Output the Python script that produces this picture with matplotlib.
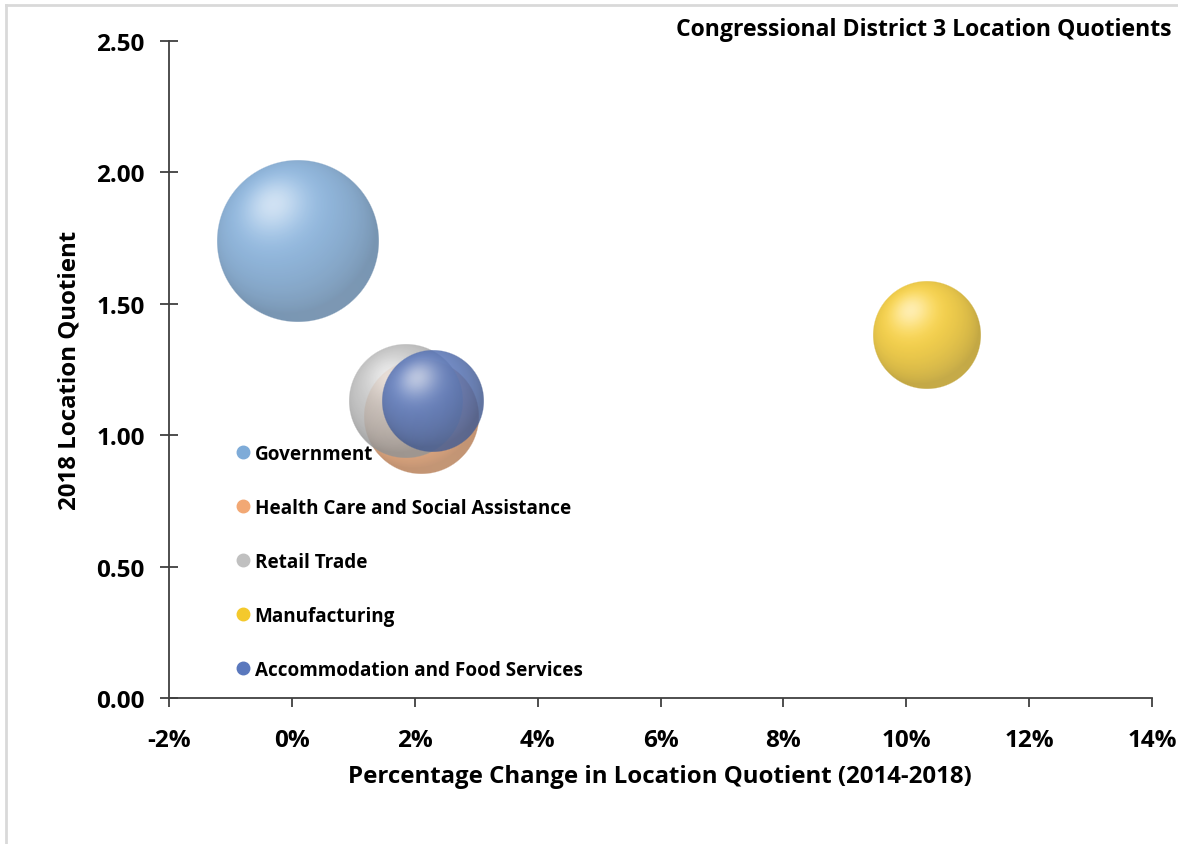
import numpy as np
import matplotlib
matplotlib.use("Agg")
import matplotlib.pyplot as plt
from matplotlib.lines import Line2D
from matplotlib.ticker import FuncFormatter, MultipleLocator

plt.rcParams["font.family"] = ["Open Sans", "DejaVu Sans"]
plt.rcParams["font.weight"] = "bold"

industries = [
    "Government",
    "Health Care and Social Assistance",
    "Retail Trade",
    "Manufacturing",
    "Accommodation and Food Services",
]
pct_change = [0.10, 2.11, 1.85, 10.33, 2.30]   # % change in LQ, 2014-2018
lq_2018 = [1.74, 1.07, 1.13, 1.38, 1.13]
bubble_size = [6700, 3400, 3350, 3000, 2700]
colors = ["#7eabd8", "#f2a874", "#c0c0c0", "#f4c92c", "#5a78bd"]


def sphere_rgba(color, n):
    rgb0 = np.array(matplotlib.colors.to_rgb(color))
    g = np.linspace(-1, 1, n)
    X, Y = np.meshgrid(g, g)
    r = np.sqrt(X**2 + Y**2)
    Z = np.sqrt(np.clip(1 - r**2, 0, 1))
    light = np.array([-0.3, 0.45, 0.84])
    light /= np.linalg.norm(light)
    diff = np.clip(X * light[0] + Y * light[1] + Z * light[2], 0, 1)
    rgb = rgb0 * (0.76 + 0.28 * diff)[..., None]
    spec = (diff ** 14)[..., None]
    rgb = rgb + (1 - rgb) * 0.55 * spec
    # soft bounce light at the bottom right
    bounce = np.clip(X * 0.3 - Y * 0.6 + Z * 0.3, 0, 1) ** 4
    rgb = rgb + (1 - rgb) * 0.10 * bounce[..., None]
    rgb = np.clip(rgb, 0, 1)
    alpha = np.clip((1 - r) * n / 2.5, 0, 1) * 0.85
    return np.dstack([rgb, alpha])


fig = plt.figure(figsize=(11.78, 8.45), dpi=100)
ax = fig.add_axes([0.1435, 0.1728, 0.978 - 0.1435, 0.9503 - 0.1728])

xlim = (-2, 14)
ylim = (0, 2.5)
ax.set_xlim(*xlim)
ax.set_ylim(*ylim)

# bubbles drawn as shaded sphere images sized in screen pixels
for i, (x, y, s, c) in enumerate(zip(pct_change, lq_2018, bubble_size, colors)):
    rad = np.sqrt(s)
    cx, cy = ax.transData.transform((x, y))
    inv = ax.transData.inverted()
    x0, y0 = inv.transform((cx - rad, cy - rad))
    x1, y1 = inv.transform((cx + rad, cy + rad))
    img = sphere_rgba(c, int(2 * rad) + 1)
    ax.imshow(img, extent=(x0, x1, y0, y1), origin="lower",
              interpolation="bilinear", aspect="auto", zorder=2 + i)

ax.set_xlim(*xlim)
ax.set_ylim(*ylim)
ax.set_aspect("auto")

ax.xaxis.set_major_locator(MultipleLocator(2))
ax.yaxis.set_major_locator(MultipleLocator(0.5))
ax.xaxis.set_major_formatter(FuncFormatter(lambda v, p: f"{v:.0f}%"))
ax.yaxis.set_major_formatter(FuncFormatter(lambda v, p: f"{v:.2f}"))

for side in ["top", "right"]:
    ax.spines[side].set_visible(False)
for side in ["left", "bottom"]:
    ax.spines[side].set_color("#404040")
    ax.spines[side].set_linewidth(1.3)
ax.tick_params(axis="y", direction="inout", length=13, width=1.3,
               color="#404040", pad=11, labelsize=17.5)
ax.tick_params(axis="x", direction="out", length=6.5, width=1.3,
               color="#404040", pad=15, labelsize=17.5)
for lab in ax.get_xticklabels() + ax.get_yticklabels():
    lab.set_fontweight("bold")

fig.text(0.5603, 0.0805, "Percentage Change in Location Quotient (2014-2018)",
         ha="center", va="center", fontsize=17.3, fontweight="bold")
fig.text(0.0594, 0.562, "2018 Location Quotient", rotation=90,
         ha="center", va="center", fontsize=17.3, fontweight="bold")
fig.text(1 - 6 / 1178, 1 - 30 / 845, "Congressional District 3 Location Quotients",
         ha="right", va="center", fontsize=16.6, fontweight="bold")

handles = [Line2D([], [], linestyle="none", marker="o", markersize=9,
                  markerfacecolor=c, markeredgecolor=c) for c in colors]
ax.legend(handles, industries, loc="upper left",
          bbox_to_anchor=(0.192, 1 - 437 / 845), bbox_transform=fig.transFigure,
          frameon=False, labelspacing=1.80, handletextpad=0.1,
          handlelength=1.0, borderaxespad=0,
          prop={"weight": "bold", "size": 13.6})

# light frame of the chart area (only top and left visible)
fig.add_artist(Line2D([6 / 1178, 1], [1 - 6 / 845, 1 - 6 / 845],
                      transform=fig.transFigure, color="#d9d9d9", lw=2))
fig.add_artist(Line2D([6 / 1178, 6 / 1178], [0, 1 - 6 / 845],
                      transform=fig.transFigure, color="#d9d9d9", lw=2))

fig.savefig("out.png", dpi=100)
